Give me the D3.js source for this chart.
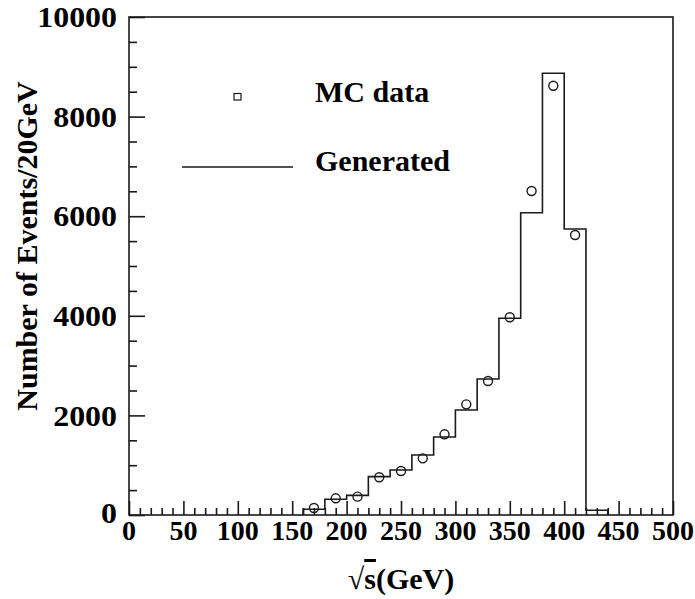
<!DOCTYPE html>
<html>
<head>
<meta charset="utf-8">
<script src="https://cdn.jsdelivr.net/npm/d3@7"></script>
<style>
  body { margin: 0; background: #fff; }
  text { font-family: "Liberation Serif", "Times New Roman", serif; font-weight: bold; fill: #000; }
</style>
</head>
<body>
<svg id="chart" width="695" height="599"></svg>
<script>
// data
const binStart = 160
const binWidth = 20
const generated = [114, 315, 395, 770, 904, 1205, 1566, 2108, 2731, 3950, 6070, 8869, 5743, 94]
const mcCenters = [170, 190, 210, 230, 250, 270, 290, 310, 330, 350, 370, 390, 410]
const mcValues = [140, 335, 368, 757, 884, 1138, 1620, 2222, 2690, 3970, 6506, 8620, 5622]
const xTicks = [0, 50, 100, 150, 200, 250, 300, 350, 400, 450, 500]
const yTicks = [0, 2000, 4000, 6000, 8000, 10000]

const margin = { top: 17, right: 22, bottom: 84, left: 129 }
const width = 695 - margin.left - margin.right
const height = 599 - margin.top - margin.bottom

const svg = d3.select("#chart")
const g = svg.append("g")
    .attr("transform", `translate(${margin.left}, ${margin.top})`)

const xScale = d3.scaleLinear().domain([0, 500]).range([0, width])
const yScale = d3.scaleLinear().domain([0, 10000]).range([height, 0])

const stroke = "#1a1a1a"

// minor + major ticks, pointing into the frame
const xAxis = d3.axisTop(xScale).tickValues(d3.range(0, 501, 10)).tickFormat("")
    .tickSize(7).tickSizeOuter(0)
const xAxisG = g.append("g").attr("transform", `translate(0, ${height})`).call(xAxis)
xAxisG.selectAll(".tick line").filter(d => d % 50 === 0).attr("y2", -14)

const yAxis = d3.axisRight(yScale).tickValues(d3.range(0, 10001, 500)).tickFormat("")
    .tickSize(8).tickSizeOuter(0)
const yAxisG = g.append("g").call(yAxis)
yAxisG.selectAll(".tick line").filter(d => d % 2000 === 0).attr("x2", 16)

g.selectAll(".domain").remove()
g.selectAll(".tick line").attr("stroke", stroke).attr("stroke-width", 1.6)

// frame
g.append("rect")
    .attr("width", width).attr("height", height)
    .attr("fill", "none").attr("stroke", stroke).attr("stroke-width", 1.6)

// tick labels
g.selectAll(".xlab").data(xTicks).join("text")
    .attr("class", "xlab")
    .attr("x", d => xScale(d)).attr("y", height + 25)
    .attr("text-anchor", "middle")
    .attr("font-size", 28)
    .text(d => d)

// the original font is a bit wider than Times
g.selectAll(".ylab").data(yTicks).join("text")
    .attr("class", "ylab")
    .attr("transform", d => `translate(-12, ${yScale(d) - (d === 0 ? 2 : 0)}) scale(1.1, 1)`)
    .attr("dy", "0.35em")
    .attr("text-anchor", "end")
    .attr("font-size", 29)
    .text(d => d)

// generated histogram
const histPts = [{ x: binStart, y: 0 }]
generated.forEach((v, i) => histPts.push({ x: binStart + i * binWidth, y: v }))
histPts.push({ x: binStart + generated.length * binWidth, y: generated[generated.length - 1] })
histPts.push({ x: binStart + generated.length * binWidth, y: 0 })

const line = d3.line()
    .x(d => xScale(d.x))
    .y(d => yScale(d.y))
    .curve(d3.curveStepAfter)

g.append("path")
    .datum(histPts)
    .attr("d", line)
    .attr("fill", "none")
    .attr("stroke", stroke)
    .attr("stroke-width", 1.6)

// MC points
g.selectAll(".mc").data(mcCenters).join("circle")
    .attr("class", "mc")
    .attr("cx", d => xScale(d))
    .attr("cy", (d, i) => yScale(mcValues[i]))
    .attr("r", 4.5)
    .attr("fill", "none")
    .attr("stroke", stroke)
    .attr("stroke-width", 1.4)

// legend
svg.append("rect")
    .attr("x", 234).attr("y", 93.5).attr("width", 7).attr("height", 6.5)
    .attr("fill", "none").attr("stroke", stroke).attr("stroke-width", 1.2)
svg.append("text").attr("x", 315).attr("y", 102).attr("font-size", 30).text("MC data")
svg.append("line")
    .attr("x1", 182).attr("x2", 293).attr("y1", 167).attr("y2", 167)
    .attr("stroke", stroke).attr("stroke-width", 1.6)
svg.append("text").attr("x", 315).attr("y", 171).attr("font-size", 30).text("Generated")

// axis titles
svg.append("text")
    .attr("transform", "translate(37, 246) rotate(-90)")
    .attr("text-anchor", "middle")
    .attr("font-size", 30)
    .text("Number of Events/20GeV")

const xt = svg.append("text")
    .attr("x", 401).attr("y", 589)
    .attr("text-anchor", "middle")
    .attr("font-size", 30)
xt.append("tspan").text("√")
xt.append("tspan").attr("text-decoration", "overline").text("s")
xt.append("tspan").text("(GeV)")
</script>
</body>
</html>
